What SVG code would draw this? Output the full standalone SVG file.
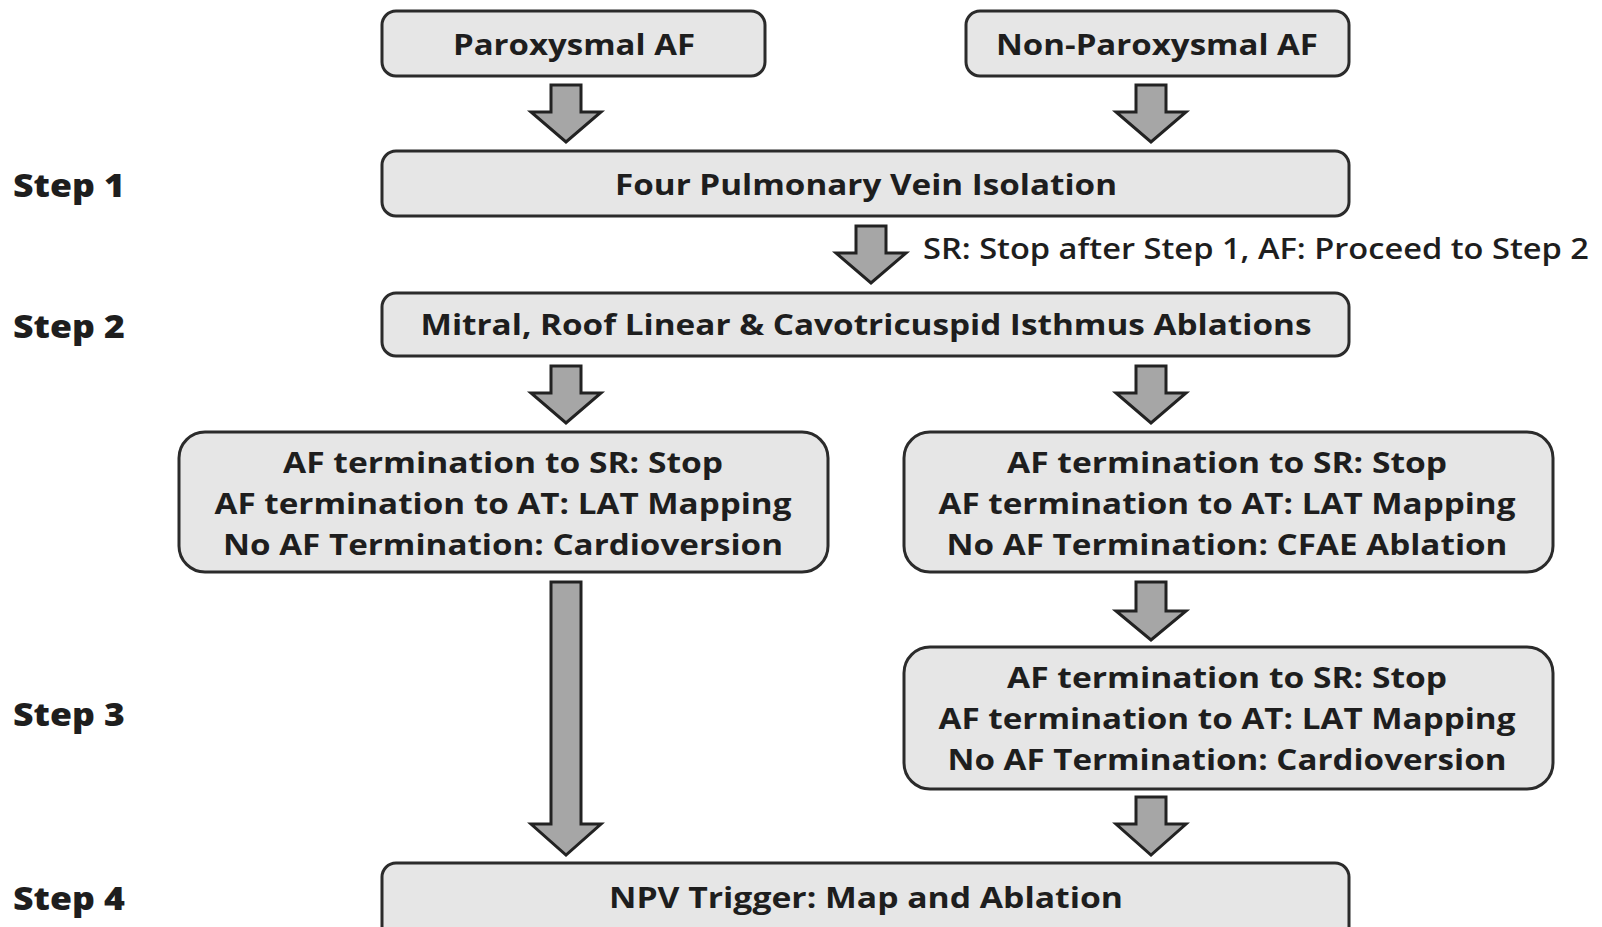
<svg xmlns="http://www.w3.org/2000/svg" width="1602" height="927" viewBox="0 0 1602 927">
<style>
.box{fill:#e6e6e6;stroke:#2b2b2b;stroke-width:3}
.arr{fill:#a6a6a6;stroke:#222;stroke-width:3;stroke-linejoin:miter}
.t{font-family:"Open Sans","Liberation Sans",sans-serif;font-weight:700;font-size:28px;fill:#1e1e1e;text-anchor:middle}
.s{font-family:"Open Sans","Liberation Sans",sans-serif;font-weight:800;font-size:31px;fill:#1e1e1e}
</style>
<rect width="1602" height="927" fill="#ffffff"/>
<g id="step-labels">
<text class="s" x="13" y="197" textLength="112" lengthAdjust="spacingAndGlyphs">Step 1</text>
<text class="s" x="13" y="338" textLength="112" lengthAdjust="spacingAndGlyphs">Step 2</text>
<text class="s" x="13" y="726" textLength="112" lengthAdjust="spacingAndGlyphs">Step 3</text>
<text class="s" x="13" y="910" textLength="112" lengthAdjust="spacingAndGlyphs">Step 4</text>
</g>
<g id="connectors">
<path class="arr" d="M551,85H581V112H601L566,142L531,112H551Z"/>
<path class="arr" d="M1136,85H1166V112H1186L1151,142L1116,112H1136Z"/>
<path class="arr" d="M856,226H886V253H906L871,283L836,253H856Z"/>
<path class="arr" d="M551,366H581V393H601L566,423L531,393H551Z"/>
<path class="arr" d="M1136,366H1166V393H1186L1151,423L1116,393H1136Z"/>
<path class="arr" d="M1136,582H1166V611H1186L1151,640L1116,611H1136Z"/>
<path class="arr" d="M551,582H581V824H601L566,855L531,824H551Z"/>
<path class="arr" d="M1136,797H1166V824H1186L1151,855L1116,824H1136Z"/>
<text class="t" x="923" y="259" textLength="666" lengthAdjust="spacingAndGlyphs" style="text-anchor:start;font-weight:600">SR: Stop after Step 1, AF: Proceed to Step 2</text>
</g>
<g id="paroxysmal">
<rect class="box" x="382" y="11" width="383" height="65" rx="14"/>
<text class="t" x="574" y="55" textLength="242" lengthAdjust="spacingAndGlyphs">Paroxysmal AF</text>
</g>
<g id="non-paroxysmal">
<rect class="box" x="966" y="11" width="383" height="65" rx="14"/>
<text class="t" x="1157" y="55" textLength="322" lengthAdjust="spacingAndGlyphs">Non-Paroxysmal AF</text>
</g>
<g id="step1">
<rect class="box" x="382" y="151" width="967" height="65" rx="14"/>
<text class="t" x="866" y="195" textLength="502" lengthAdjust="spacingAndGlyphs">Four Pulmonary Vein Isolation</text>
</g>
<g id="step2">
<rect class="box" x="382" y="293" width="967" height="63" rx="14"/>
<text class="t" x="866" y="335" textLength="891" lengthAdjust="spacingAndGlyphs">Mitral, Roof Linear &amp; Cavotricuspid Isthmus Ablations</text>
</g>
<g id="left-outcome">
<rect class="box" x="179" y="432" width="649" height="140" rx="26"/>
<text class="t" x="503" y="473" textLength="440" lengthAdjust="spacingAndGlyphs">AF termination to SR: Stop</text>
<text class="t" x="503" y="514" textLength="577" lengthAdjust="spacingAndGlyphs">AF termination to AT: LAT Mapping</text>
<text class="t" x="503" y="555" textLength="560" lengthAdjust="spacingAndGlyphs">No AF Termination: Cardioversion</text>
</g>
<g id="right-outcome">
<rect class="box" x="904" y="432" width="649" height="140" rx="26"/>
<text class="t" x="1227" y="473" textLength="440" lengthAdjust="spacingAndGlyphs">AF termination to SR: Stop</text>
<text class="t" x="1227" y="514" textLength="577" lengthAdjust="spacingAndGlyphs">AF termination to AT: LAT Mapping</text>
<text class="t" x="1227" y="555" textLength="561" lengthAdjust="spacingAndGlyphs">No AF Termination: CFAE Ablation</text>
</g>
<g id="step3">
<rect class="box" x="904" y="647" width="649" height="142" rx="26"/>
<text class="t" x="1227" y="688" textLength="440" lengthAdjust="spacingAndGlyphs">AF termination to SR: Stop</text>
<text class="t" x="1227" y="729" textLength="577" lengthAdjust="spacingAndGlyphs">AF termination to AT: LAT Mapping</text>
<text class="t" x="1227" y="770" textLength="559" lengthAdjust="spacingAndGlyphs">No AF Termination: Cardioversion</text>
</g>
<g id="step4">
<rect class="box" x="382" y="863" width="967" height="90" rx="14"/>
<text class="t" x="866" y="908" textLength="514" lengthAdjust="spacingAndGlyphs">NPV Trigger: Map and Ablation</text>
</g>
</svg>
